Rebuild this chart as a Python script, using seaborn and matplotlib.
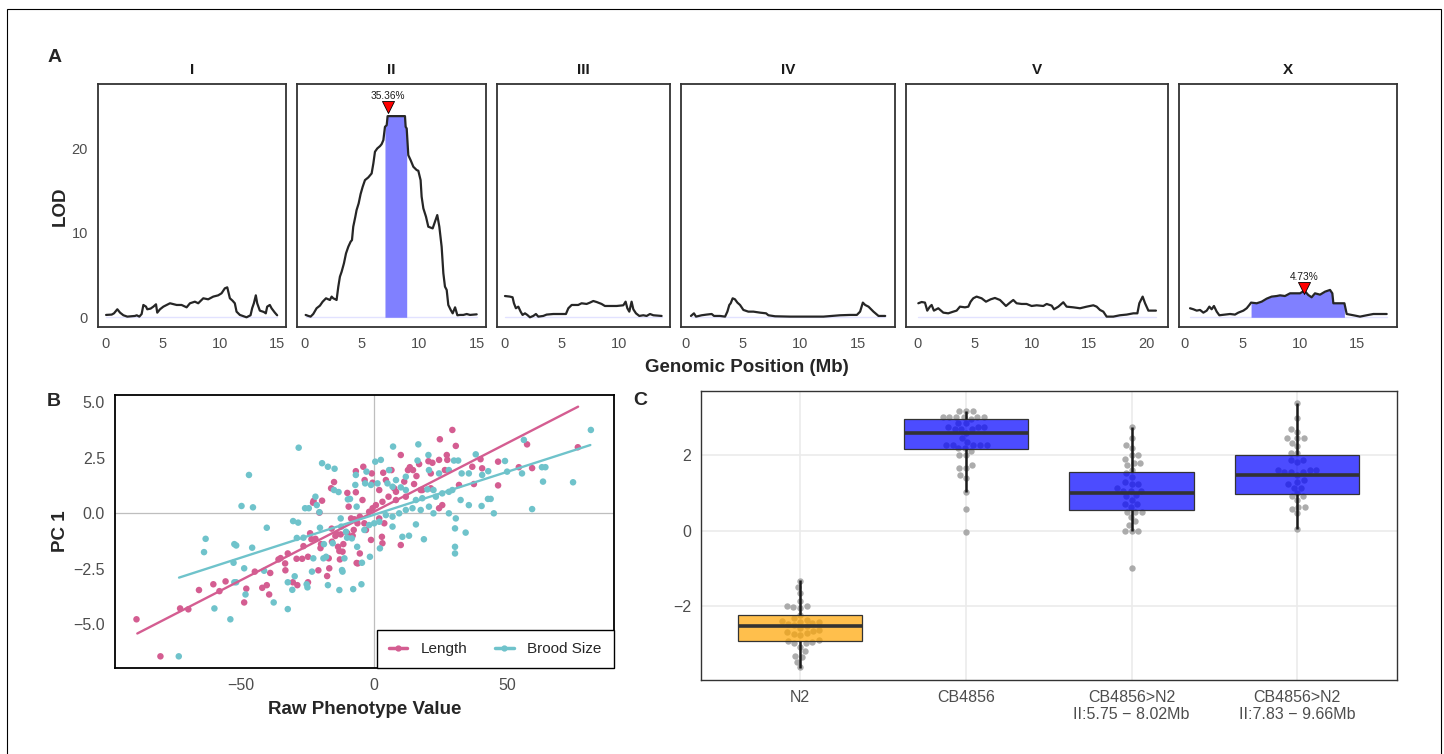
import numpy as np
import pandas as pd
import matplotlib
matplotlib.use("Agg")
import matplotlib.pyplot as plt
import seaborn as sns
from matplotlib.lines import Line2D
from matplotlib.patches import Rectangle

# ---------------- Panel A: LOD scans (position Mb, LOD) ----------------
chroms = ["I", "II", "III", "IV", "V", "X"]

scan_I = [(0.09, 0.28), (0.58, 0.32), (0.78, 0.47), (1.07, 0.95), (1.31, 0.55), (1.60, 0.24),
          (1.94, 0.08), (2.61, 0.16), (2.76, 0.24), (2.99, 0.08), (3.19, 0.39), (3.34, 1.46),
          (3.57, 1.26), (3.68, 0.95), (3.97, 1.03), (4.21, 1.26), (4.44, 1.54), (4.55, 0.55),
          (4.79, 0.95), (5.08, 1.26), (5.66, 1.66), (6.24, 1.46), (6.67, 1.46), (7.11, 1.18),
          (7.40, 1.66), (7.83, 1.85), (8.12, 1.66), (8.56, 2.25), (8.99, 2.13), (9.43, 2.45),
          (9.86, 2.60), (10.15, 2.84), (10.44, 3.43), (10.65, 3.55), (10.88, 2.25), (11.11, 1.97),
          (11.31, 1.66), (11.46, 0.67), (11.75, 0.28), (12.33, 0.0), (12.68, 0.24), (12.82, 1.07),
          (12.97, 1.66), (13.14, 2.60), (13.26, 1.66), (13.49, 0.79), (13.84, 0.63), (14.01, 0.47),
          (14.13, 1.26), (14.36, 1.46), (14.51, 1.07), (14.80, 0.55), (15.0, 0.24)]

scan_II = [(0.12, 0.28), (0.35, 0.16), (0.55, 0.08), (0.78, 0.39), (1.07, 1.07), (1.36, 1.38),
           (1.60, 1.85), (1.89, 2.25), (2.23, 2.05), (2.38, 2.45), (2.52, 2.25), (2.70, 2.13),
           (2.81, 2.05), (2.96, 3.63), (3.10, 4.81), (3.25, 5.40), (3.45, 6.39), (3.63, 7.57),
           (3.83, 8.36), (4.03, 8.95), (4.15, 9.15), (4.26, 10.73), (4.44, 11.91), (4.55, 12.70),
           (4.73, 13.49), (4.90, 14.60), (5.08, 15.46), (5.28, 16.25), (5.57, 16.57), (5.86, 17.04),
           (6.01, 18.23), (6.15, 19.61), (6.35, 20.00), (6.59, 20.28), (6.73, 20.51), (6.88, 20.99),
           (7.02, 22.56), (7.17, 22.76), (7.25, 23.83), (8.76, 23.83), (8.82, 22.56), (8.91, 22.37),
           (9.05, 19.21), (9.25, 18.62), (9.49, 17.83), (9.78, 17.44), (9.92, 17.36), (10.12, 16.25),
           (10.21, 14.28), (10.36, 12.90), (10.59, 11.91), (10.79, 10.73), (11.17, 10.53),
           (11.37, 11.32), (11.57, 12.11), (11.75, 10.73), (11.95, 8.36), (12.10, 5.21),
           (12.24, 3.63), (12.39, 3.24), (12.53, 1.46), (12.74, 0.87), (12.91, 0.47), (13.12, 1.18),
           (13.32, 0.24), (13.55, 0.28), (13.84, 0.28), (14.13, 0.39), (14.42, 0.28), (15.0, 0.35)]

scan_III = [(0.06, 2.52), (0.49, 2.45), (0.72, 2.37), (0.84, 1.66), (1.01, 1.07), (1.22, 1.26),
            (1.42, 0.67), (1.59, 0.28), (1.80, 0.47), (2.0, 0.28), (2.23, 0.0), (2.52, 0.16),
            (2.75, 0.39), (2.96, 0.08), (3.39, 0.16), (3.68, 0.32), (4.26, 0.39), (5.36, 0.39),
            (5.57, 1.07), (5.86, 1.46), (6.43, 1.46), (6.72, 1.66), (7.16, 1.58), (7.45, 1.74),
            (7.74, 1.93), (8.03, 1.81), (8.46, 1.58), (8.75, 1.34), (9.19, 1.34), (9.77, 1.34),
            (10.35, 1.42), (10.55, 1.85), (10.70, 1.07), (10.87, 0.67), (11.07, 1.85), (11.22, 0.95),
            (11.45, 0.47), (11.74, 0.16), (12.09, 0.24), (12.38, 0.16), (12.67, 0.39), (12.96, 0.24),
            (13.68, 0.16)]

scan_IV = [(0.49, 0.16), (0.75, 0.47), (0.93, 0.08), (1.42, 0.24), (1.85, 0.32), (2.29, 0.39),
           (2.49, 0.16), (3.01, 0.16), (3.45, 0.08), (3.65, 0.67), (3.82, 1.46), (3.94, 1.66),
           (4.11, 2.25), (4.31, 2.13), (4.52, 1.74), (4.75, 1.46), (5.04, 0.87), (5.47, 0.67),
           (5.91, 0.67), (6.49, 0.55), (7.01, 0.47), (7.21, 0.24), (7.79, 0.12), (9.09, 0.08),
           (11.99, 0.08), (13.44, 0.24), (14.31, 0.28), (14.89, 0.28), (15.17, 0.67), (15.41, 1.74),
           (15.61, 1.46), (15.90, 1.26), (16.33, 0.67), (16.77, 0.16), (17.35, 0.16)]

scan_V = [(0.09, 1.66), (0.38, 1.81), (0.67, 1.74), (0.87, 0.79), (1.10, 1.26), (1.25, 1.46),
          (1.45, 0.79), (1.83, 1.07), (2.27, 0.55), (2.70, 0.47), (3.14, 0.67), (3.43, 0.79),
          (3.72, 1.26), (4.16, 1.18), (4.45, 1.26), (4.65, 1.85), (4.88, 2.25), (5.17, 2.45),
          (5.61, 2.25), (5.99, 1.85), (6.40, 2.13), (6.77, 2.29), (7.21, 2.05), (7.50, 1.66),
          (7.73, 1.34), (8.08, 1.74), (8.37, 2.05), (8.66, 1.66), (9.10, 1.58), (9.53, 1.58),
          (9.97, 1.34), (10.41, 1.42), (10.99, 1.34), (11.28, 1.58), (11.72, 1.38), (11.92, 0.95),
          (12.30, 1.26), (12.73, 1.78), (13.02, 1.26), (13.60, 1.18), (14.19, 1.07), (14.77, 1.26),
          (15.35, 1.42), (15.64, 1.26), (15.93, 0.87), (16.22, 0.67), (16.51, 0.08), (17.09, 0.08),
          (17.67, 0.24), (18.26, 0.32), (18.84, 0.47), (19.19, 0.47), (19.36, 1.66), (19.65, 2.45),
          (19.86, 1.66), (20.15, 0.79), (20.81, 0.79)]

scan_X = [(0.44, 1.07), (0.73, 0.95), (1.02, 0.79), (1.31, 0.87), (1.60, 0.55), (1.89, 0.79),
          (2.12, 1.26), (2.32, 0.95), (2.52, 1.34), (2.76, 0.67), (2.99, 0.24), (3.48, 0.32),
          (3.92, 0.39), (4.35, 0.32), (4.64, 0.55), (5.08, 0.79), (5.37, 1.07), (5.60, 1.46),
          (5.75, 1.74), (6.24, 1.66), (6.67, 1.85), (7.11, 2.21), (7.54, 2.45), (7.98, 2.52),
          (8.27, 2.60), (8.70, 2.52), (9.14, 2.84), (9.57, 2.84), (10.01, 2.84), (10.39, 3.16),
          (10.73, 2.64), (11.02, 2.37), (11.31, 2.84), (11.75, 2.68), (12.19, 3.04), (12.62, 3.24),
          (12.82, 2.84), (12.91, 1.66), (13.20, 1.66), (13.87, 1.66), (14.07, 0.39), (14.65, 0.24),
          (15.23, 0.08), (15.81, 0.24), (16.39, 0.39), (17.55, 0.39)]

# confidence intervals (Mb) and peak markers
ci_chrom = ["II", "X"]
ci_start = [7.02, 5.75]
ci_end = [8.91, 13.87]
peak_pos = [7.31, 10.39]
peak_mark = [24.9, 3.45]
peak_label = ["35.36%", "4.73%"]

# ---------------- Panel B: PC1 vs raw phenotype ----------------
length_pts = [(-89.3, -4.78), (-80.3, -6.45), (-72.9, -4.29), (-69.8, -4.33), (-65.8, -3.46),
              (-60.4, -3.20), (-58.1, -3.51), (-55.8, -3.07), (-48.8, -4.02), (-48.0, -3.40),
              (-44.8, -2.63), (-42.0, -3.36), (-40.3, -3.24), (-39.4, -3.66), (-39.0, -2.69),
              (-35.9, -2.08), (-35.1, -2.02), (-33.4, -2.26), (-33.3, -2.57), (-32.4, -1.81),
              (-30.5, -3.11), (-28.8, -3.24), (-29.1, -2.05), (-27.0, -2.05), (-26.5, -1.48),
              (-24.8, -3.11), (-24.8, -1.96), (-24.0, -0.90), (-23.5, -1.17), (-22.9, 0.48),
              (-22.7, 0.56), (-22.0, -1.15), (-20.9, -2.57), (-20.1, -1.57), (-19.9, -1.39),
              (-19.5, 0.57), (-20.5, 0.03), (-17.6, -2.83), (-17.0, -2.03), (-16.8, -2.48),
              (-16.1, 1.13), (-15.9, -0.69), (-15.8, -1.28), (-15.0, 1.41), (-14.5, -1.02),
              (-14.0, -0.93), (-13.5, -1.51), (-13.0, -1.70), (-12.8, -2.08), (-12.5, -0.95),
              (-11.8, -1.73), (-11.5, -1.39), (-10.0, 0.92), (-10.0, -0.90), (-9.5, 0.30),
              (-8.6, -0.23), (-8.0, -1.01), (-7.6, -0.75), (-7.3, -0.27), (-6.8, 1.90),
              (-6.8, 0.95), (-6.5, -2.24), (-6.2, -0.45),
              (29.5, 3.76), (24.8, 3.34), (30.8, 3.04), (10.1, 2.63), (27.4, 2.63), (24.5, 2.41),
              (20.5, 2.35), (22.0, 2.28), (17.0, 2.22), (14.7, 1.95), (12.8, 1.95), (13.5, 2.08),
              (6.6, 1.95), (3.5, 1.83), (-0.8, 1.80), (-4.0, 2.10), (-3.5, 1.50), (-0.5, 1.38),
              (2.0, 1.05), (4.5, 1.50), (7.6, 1.13), (11.4, 1.43), (15.1, 1.32), (18.2, 1.05),
              (21.4, 1.80), (26.7, 1.95), (27.6, 2.41), (37.0, 2.10), (40.1, 2.44), (46.7, 2.33),
              (40.7, 2.03), (54.5, 2.08), (59.5, 2.04), (57.6, 3.11), (76.7, 2.98), (46.7, 1.26),
              (37.6, 1.32), (32.0, 1.28), (25.7, 0.37), (24.5, 0.23), (0.75, 0.37), (3.2, 0.52),
              (5.5, 0.75), (8.3, 0.60), (-1.8, 0.07), (-0.5, 0.23), (2.0, -0.23), (3.9, -0.45),
              (-4.3, 0.60), (-5.3, -0.15), (-3.6, -0.45), (-3.0, -0.75), (-1.1, -1.20), (3.0, -1.06),
              (3.2, -1.35), (10.1, -1.43), (-5.3, -1.81), (-6.1, -2.26), (8.3, 0.97), (12.0, 0.75),
              (17.6, 1.05), (21.4, 1.13), (16.0, 1.68)]

brood_pts = [(-73.4, -6.45), (-60.0, -4.29), (-54.0, -4.78), (-63.9, -1.75), (-63.3, -1.15),
             (-52.5, -1.39), (-51.8, -1.45), (-52.8, -2.23), (-52.5, -3.11), (-51.8, -3.11),
             (-49.8, 0.33), (-47.0, 1.73), (-45.5, 0.27), (-45.8, -1.55), (-48.8, -2.48),
             (-48.3, -3.66), (-41.3, -2.59), (-40.3, -0.65), (-37.7, -4.02), (-32.4, -4.32),
             (-32.4, -3.11), (-30.7, -3.45), (-29.8, -2.84), (-30.4, -0.35), (-28.5, -0.42),
             (-28.3, 2.96), (-29.0, -1.11), (-26.5, -1.10), (-25.9, 0.23), (-25.3, -3.20),
             (-25.0, -3.34), (-24.5, 0.23), (-23.3, -2.63), (-22.8, -2.03), (-22.0, 0.75),
             (-21.5, 0.37), (-20.3, -0.65), (-19.5, 2.26), (-19.0, -2.03), (-18.8, -1.39),
             (-18.0, -1.96), (-17.3, -3.24), (-17.3, 2.10), (-15.5, -1.35), (-15.0, 1.05),
             (-14.8, 2.01), (-13.3, 0.96), (-13.0, -3.46), (-12.5, -0.23), (-12.3, -0.60),
             (-12.0, -2.56), (-11.8, -2.63), (-11.1, -2.03), (-10.5, -0.83), (-10.1, -1.10),
             (-9.8, 0.63), (-9.0, 0.65), (-8.3, -1.13), (-7.8, -3.42), (-7.0, 1.28), (-6.8, 1.73),
             (-6.5, 0.30), (-6.3, -1.51), (-20.5, 0.05),
             (81.6, 3.76), (56.4, 3.31), (49.3, 2.36), (38.3, 2.66), (16.7, 3.11), (7.2, 3.01),
             (20.5, 2.63), (0.5, 2.33), (2.6, 2.41), (-2.8, 1.88), (5.7, 1.95), (8.3, 1.50),
             (12.0, 1.65), (16.4, 2.38), (20.7, 1.95), (24.5, 1.80), (28.2, 1.95), (30.1, 2.38),
             (31.7, 2.38), (33.0, 1.80), (35.7, 1.80), (40.7, 1.73), (43.0, 1.90), (50.1, 1.88),
             (55.7, 1.80), (63.2, 2.08), (64.5, 2.08), (63.6, 1.43), (74.9, 1.40), (59.5, 0.19),
             (45.1, 0.0), (43.9, 0.65), (42.9, 0.65), (40.5, 0.33), (35.7, 0.37), (32.6, 0.60),
             (29.5, 1.05), (28.2, 0.97), (25.7, 0.90), (23.3, 0.75), (18.2, 0.68), (15.8, 0.60),
             (14.5, 0.23), (12.0, 0.15), (9.5, 0.0), (7.0, -0.15), (4.5, -0.08), (2.0, -0.38),
             (0.1, -0.45), (-1.8, -0.53), (-3.6, -0.75), (7.0, -0.60), (10.7, -1.06), (13.2, -1.01),
             (18.8, -1.17), (15.8, -0.50), (22.4, 0.0), (28.2, 0.0), (30.8, -0.23), (30.5, -0.68),
             (34.5, -0.87), (30.5, -1.51), (30.5, -1.81), (2.25, -1.58), (-1.5, -1.96),
             (-4.5, -2.23), (-4.7, -3.20), (22.4, 1.05), (20.1, 1.08), (12.0, 1.05), (10.1, 1.17),
             (7.0, 1.20), (5.1, 1.35), (1.35, 1.35), (-1.1, 1.28), (-3.3, 1.35), (20.7, 0.30),
             (17.6, 0.15)]

# fitted lines (endpoints)
length_fit_x = [-89.0, 76.8]
length_fit_y = [-5.42, 4.81]
brood_fit_x = [-73.3, 81.4]
brood_fit_y = [-2.90, 3.08]

# ---------------- Panel C: NIL PC1 ----------------
strains = ["N2", "CB4856", "CB4856>N2\nII:5.75 \u2212 8.02Mb", "CB4856>N2\nII:7.83 \u2212 9.66Mb"]
pc1_N2 = [-1.32, -1.49, -1.65, -1.85, -1.98, -2.0, -2.02, -2.03, -2.22, -2.31, -2.35, -2.38,
          -2.40, -2.42, -2.44, -2.47, -2.50, -2.53, -2.58, -2.62, -2.64, -2.67, -2.70, -2.72,
          -2.75, -2.90, -2.92, -2.94, -2.96, -2.97, -3.06, -3.19, -3.30, -3.34, -3.46, -3.61]
pc1_CB = [3.16, 3.16, 3.16, 2.99, 2.99, 2.99, 2.99, 2.99, 2.99, 2.94, 2.83, 2.83, 2.74, 2.74,
          2.74, 2.68, 2.68, 2.68, 2.57, 2.44, 2.33, 2.26, 2.26, 2.26, 2.26, 2.26, 2.17, 2.17,
          2.10, 2.00, 2.00, 1.73, 1.66, 1.66, 1.47, 1.38, 1.03, 0.56, -0.05]
pc1_nil1 = [2.72, 2.45, 2.26, 2.17, 2.00, 2.00, 1.89, 1.78, 1.78, 1.73, 1.60, 1.51, 1.42, 1.29,
            1.22, 1.22, 1.12, 1.05, 1.05, 1.05, 0.94, 0.90, 0.81, 0.70, 0.70, 0.63, 0.50, 0.50,
            0.50, 0.37, 0.24, 0.15, -0.01, -0.01, -0.01, -0.98]
pc1_nil2 = [3.36, 2.97, 2.68, 2.61, 2.44, 2.44, 2.44, 2.31, 2.22, 2.04, 2.04, 1.87, 1.87, 1.80,
            1.60, 1.60, 1.60, 1.54, 1.54, 1.54, 1.47, 1.34, 1.29, 1.22, 1.13, 1.13, 0.99, 0.90,
            0.90, 0.81, 0.63, 0.63, 0.57, 0.46, 0.04]
# box summaries: lower whisker, q1, median, q3, upper whisker
box_N2 = [-3.63, -2.91, -2.52, -2.22, -1.30]
box_CB = [1.03, 2.15, 2.57, 2.94, 3.16]
box_nil1 = [-0.01, 0.54, 0.99, 1.54, 2.72]
box_nil2 = [0.04, 0.96, 1.46, 1.99, 3.36]

# ---------------- style ----------------
sns.set_style("white")
plt.rcParams["font.family"] = ["Liberation Sans", "DejaVu Sans"]
plt.rcParams["axes.unicode_minus"] = True

W, H = 1444, 754
fig = plt.figure(figsize=(W / 100, H / 100), dpi=100)


def rect(l, t, r, b):
    return [l / W, 1 - b / H, (r - l) / W, (b - t) / H]


def style_frame(ax, color="#333333", lw=1.1):
    for s in ax.spines.values():
        s.set_visible(True)
        s.set_color(color)
        s.set_linewidth(lw)
    ax.tick_params(axis="both", color="#333333", length=3.5, width=1.0, labelcolor="#4D4D4D")


# outer border
fig.add_artist(Rectangle((7 / W, -0.02), (1441 - 7) / W, 1 - 9 / H + 0.02,
                         transform=fig.transFigure, fill=False, ec="black", lw=0.8))

# ---------------- Panel A ----------------
scans = dict(zip(chroms, [scan_I, scan_II, scan_III, scan_IV, scan_V, scan_X]))
panel_px = {"I": (97.7, 286), "II": (296.7, 486), "III": (496.7, 670),
            "IV": (680.7, 895), "V": (905.7, 1168), "X": (1179, 1396.7)}
panel_xlim = {"I": (-0.64, 15.77), "II": (-0.66, 15.81), "III": (-0.66, 14.41),
              "IV": (-0.40, 18.2), "V": (-1.01, 21.86), "X": (-0.52, 18.42)}
xticks = {"I": [0, 5, 10, 15], "II": [0, 5, 10, 15], "III": [0, 5, 10],
          "IV": [0, 5, 10, 15], "V": [0, 5, 10, 15, 20], "X": [0, 5, 10, 15]}

for i, ch in enumerate(chroms):
    l, r = panel_px[ch]
    ax = fig.add_axes(rect(l, 84.3, r, 327))
    df = pd.DataFrame(scans[ch], columns=["pos", "lod"])
    # faint baseline of the interval ribbon
    base = pd.DataFrame({"pos": [df.pos.min(), df.pos.max()], "lod": [0, 0]})
    sns.lineplot(data=base, x="pos", y="lod", ax=ax, color="#E2E2FF", lw=1.0, zorder=1)
    if ch in ci_chrom:
        k = ci_chrom.index(ch)
        seg = df[(df.pos >= ci_start[k]) & (df.pos <= ci_end[k])]
        ax.fill_between(seg.pos, 0, seg.lod, color="#8080FF", lw=0, zorder=2)
    sns.lineplot(data=df, x="pos", y="lod", ax=ax, color="#262626", lw=1.6,
                 estimator=None, sort=False, zorder=3)
    if ch in ci_chrom:
        k = ci_chrom.index(ch)
        ax.scatter([peak_pos[k]], [peak_mark[k]], marker="v", s=75, color="red",
                   edgecolor="black", linewidth=0.6, zorder=5)
        ax.annotate(peak_label[k], (peak_pos[k], peak_mark[k]), xytext=(0, 8),
                    textcoords="offset points", ha="center", va="center",
                    fontsize=7.3, color="#1A1A1A")
    ax.set_xlim(panel_xlim[ch])
    ax.set_ylim(-1.15, 27.6)
    ax.set_xticks(xticks[ch])
    ax.set_xlabel("")
    ax.set_ylabel("")
    style_frame(ax, lw=1.3)
    ax.tick_params(labelsize=10.5)
    if i == 0:
        ax.set_yticks([0, 10, 20])
    else:
        ax.set_yticks([])
    fig.text((l + r) / 2 / W, 1 - 70 / H, ch, ha="center", va="center",
             fontsize=11, fontweight="bold", color="#1A1A1A")

fig.text(55 / W, 1 - 57 / H, "A", ha="center", va="center", fontsize=14, fontweight="bold")
fig.text(60.5 / W, 1 - 206 / H, "LOD", ha="center", va="center", rotation=90,
         fontsize=13.5, fontweight="bold")
fig.text(747 / W, 1 - 367 / H, "Genomic Position (Mb)", ha="center", va="center",
         fontsize=13.5, fontweight="bold")

# ---------------- Panel B ----------------
pink, teal = "#D45D91", "#6FC3CB"
axB = fig.add_axes(rect(114.7, 394.7, 614, 668.3))
axB.axhline(0, color="#BEBEBE", lw=0.9, zorder=0)
axB.axvline(0, color="#BEBEBE", lw=0.9, zorder=0)
dfB = pd.concat([pd.DataFrame(length_pts, columns=["raw", "pc1"]).assign(trait="Length"),
                 pd.DataFrame(brood_pts, columns=["raw", "pc1"]).assign(trait="Brood Size")])
sns.scatterplot(data=dfB, x="raw", y="pc1", hue="trait", palette={"Length": pink, "Brood Size": teal},
                s=22, linewidth=0, ax=axB, legend=False, zorder=2)
fits = pd.concat([pd.DataFrame({"raw": length_fit_x, "pc1": length_fit_y, "trait": "Length"}),
                  pd.DataFrame({"raw": brood_fit_x, "pc1": brood_fit_y, "trait": "Brood Size"})])
sns.lineplot(data=fits, x="raw", y="pc1", hue="trait", palette={"Length": pink, "Brood Size": teal},
             lw=1.7, ax=axB, legend=False, zorder=3)
axB.set_xlim(-97.5, 90.3)
axB.set_ylim(-6.99, 5.35)
axB.set_xticks([-50, 0, 50])
axB.set_yticks([-5, -2.5, 0, 2.5, 5])
axB.set_yticklabels(["\u22125.0", "\u22122.5", "0.0", "2.5", "5.0"])
axB.set_xlabel("")
axB.set_ylabel("")
style_frame(axB, color="black", lw=1.3)
axB.tick_params(labelsize=11.5)
handles = [Line2D([], [], color=pink, lw=2.5, marker="o", ms=3.5),
           Line2D([], [], color=teal, lw=2.5, marker="o", ms=3.5)]
leg = axB.legend(handles, ["Length", "Brood Size"], loc="lower right", ncol=2, frameon=True,
                 fancybox=False, edgecolor="black", framealpha=1, borderaxespad=0,
                 fontsize=11, handlelength=1.2, handletextpad=0.9, columnspacing=1.8,
                 borderpad=0.8)
leg.get_frame().set_linewidth(1.0)
fig.text(53.5 / W, 1 - 401 / H, "B", ha="center", va="center", fontsize=14, fontweight="bold")
fig.text(364.5 / W, 1 - 710 / H, "Raw Phenotype Value", ha="center", va="center",
         fontsize=13.5, fontweight="bold")
fig.text(60.5 / W, 1 - 531.5 / H, "PC 1", ha="center", va="center", rotation=90,
         fontsize=13.5, fontweight="bold")

# ---------------- Panel C ----------------
axC = fig.add_axes(rect(700.7, 390.7, 1396.7, 680.3))
pts = pd.concat([pd.DataFrame({"strain": s, "pc1": v})
                 for s, v in zip(strains, [pc1_N2, pc1_CB, pc1_nil1, pc1_nil2])])
boxes = pd.concat([pd.DataFrame({"strain": s, "pc1": v})
                   for s, v in zip(strains, [box_N2, box_CB, box_nil1, box_nil2])])
sns.swarmplot(data=pts, x="strain", y="pc1", order=strains, color="#9E9E9E", size=4.6,
              alpha=0.85, ax=axC, zorder=2)
box_colors = {strains[0]: "#FFA500", strains[1]: "#0000FF", strains[2]: "#0000FF", strains[3]: "#0000FF"}
sns.boxplot(data=boxes, x="strain", y="pc1", order=strains, hue="strain", palette=box_colors,
            legend=False, width=0.75, whis=np.inf, showcaps=False, showfliers=False,
            saturation=1, linecolor="#333333", linewidth=0.9,
            medianprops={"linewidth": 2.6, "color": "#333333"},
            whiskerprops={"linewidth": 1.8, "color": "#1A1A1A"}, ax=axC)
for p in axC.patches:
    fc = p.get_facecolor()
    p.set_facecolor((fc[0], fc[1], fc[2], 0.7))
    p.set_zorder(3)
for ln in axC.lines:
    ln.set_zorder(4)
axC.set_xlim(-0.6, 3.6)
axC.set_ylim(-3.95, 3.69)
axC.set_yticks([-2, 0, 2])
axC.set_axisbelow(True)
axC.grid(True, color="#EBEBEB", lw=1.2)
axC.set_xlabel("")
axC.set_ylabel("")
style_frame(axC, lw=1.0)
axC.tick_params(labelsize=11.5)
fig.text(640 / W, 1 - 400 / H, "C", ha="center", va="center", fontsize=14, fontweight="bold")

fig.savefig("out.png", dpi=100)
